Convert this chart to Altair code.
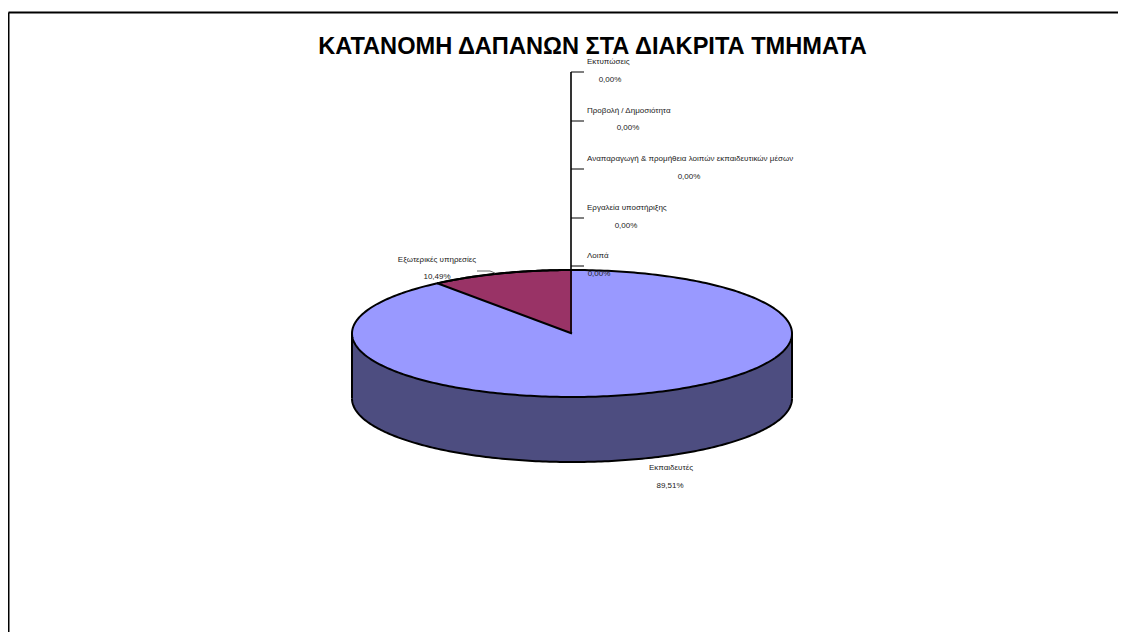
import numpy as np
import pandas as pd
import altair as alt

TITLE = "ΚΑΤΑΝΟΜΗ ΔΑΠΑΝΩΝ ΣΤΑ ΔΙΑΚΡΙΤΑ ΤΜΗΜΑΤΑ"
categories = ["Εκπαιδευτές", "Εξωτερικές υπηρεσίες", "Λοιπά", "Εργαλεία υποστήριξης",
              "Αναπαραγωγή & προμήθεια λοιπών εκπαιδευτικών μέσων",
              "Προβολή / Δημοσιότητα", "Εκτυπώσεις"]
shares = [89.51, 10.49, 0.0, 0.0, 0.0, 0.0, 0.0]
pct_labels = ["89,51%", "10,49%", "0,00%", "0,00%", "0,00%", "0,00%", "0,00%"]
# label anchors, in page pixels
name_x = [671, 437, 587, 587, 587, 587, 587]
name_y = [468, 260, 256, 208, 159, 111, 62]
pct_x = [670, 437, 599, 626, 689, 628, 610]
pct_y = [486, 277, 274, 226, 177, 128, 80]
leader_y = [266, 218, 169, 121, 72]

W, H = 1126, 640
M = 8
DEPTH = 65
CX, CY, RX, RY = 572, 333.5, 220, 63.5

sx = alt.Scale(domain=[M, W - M], range=[0, W - 2 * M], nice=False, zero=False)
sy = alt.Scale(domain=[M, H - M], range=[0, H - 2 * M], nice=False, zero=False)
ax = dict(scale=sx, axis=None)
ay = dict(scale=sy, axis=None)

def edge(t):
    return CX + RX * np.sin(t), CY - RY * np.cos(t)

theta_small = shares[1] / 100 * 2 * np.pi
t_small = np.linspace(-theta_small, 0, 60)
xs, ys = edge(t_small)
ex, ey = xs[0], ys[0]
small = pd.DataFrame({"x": xs, "y": ys, "y2": ey + (xs - ex) / (CX - ex) * (CY - ey)})

u = np.linspace(-np.pi / 2, np.pi / 2, 200)
xe = CX + RX * np.sin(u)
top_half = CY - RY * np.cos(u)
low_half = CY + RY * np.cos(u)
disc = pd.DataFrame({"x": xe, "top": top_half, "low": low_half, "low2": low_half + DEPTH})

ring_t = np.linspace(-theta_small, 2 * np.pi - theta_small, 360)
rx_, ry_ = edge(ring_t)
outer = pd.DataFrame({"x": rx_, "y": ry_, "o": np.arange(360)})
front = pd.DataFrame({"x": xe, "y": low_half + DEPTH, "o": np.arange(200)})
small_line = pd.DataFrame({"x": [ex, CX], "y": [ey, CY], "o": [0, 1]})
top_arc = pd.DataFrame({"x": xs, "y": ys, "o": np.arange(60)})

def line(df, width=2.0, color="black"):
    return alt.Chart(df).mark_line(color=color, strokeWidth=width).encode(
        x=alt.X("x:Q", **ax), y=alt.Y("y:Q", **ay), order="o:Q")

def seg(df, width=1.0, color="black"):
    return alt.Chart(df).mark_rule(color=color, strokeWidth=width).encode(
        x=alt.X("x:Q", **ax), y=alt.Y("y:Q", **ay), x2="x2:Q", y2="y2:Q")

side = alt.Chart(disc).mark_area(color="#4d4d80").encode(
    x=alt.X("x:Q", **ax), y=alt.Y("low:Q", **ay), y2="low2:Q")
face = alt.Chart(disc).mark_area(color="#9999ff").encode(
    x=alt.X("x:Q", **ax), y=alt.Y("top:Q", **ay), y2="low:Q")
wedge = alt.Chart(small).mark_area(color="#993366").encode(
    x=alt.X("x:Q", **ax), y=alt.Y("y:Q", **ay), y2="y2:Q")

edges = pd.DataFrame({"x": [CX - RX, CX + RX], "x2": [CX - RX, CX + RX],
                      "y": [CY, CY], "y2": [CY + DEPTH, CY + DEPTH]})
frame = pd.DataFrame({"x": [8.5, 8.5], "x2": [W - M, 8.5],
                      "y": [12.5, 12.5], "y2": [12.5, H - M]})
trunk = pd.DataFrame({"x": [571], "x2": [571], "y": [leader_y[-1]], "y2": [CY]})
leaders = pd.DataFrame({"x": [571] * 5, "x2": [584] * 5, "y": leader_y, "y2": leader_y})
ext = pd.DataFrame({"x": [477, 490], "x2": [490, 495], "y": [271, 271], "y2": [271, 273]})

names = pd.DataFrame({"x": name_x, "y": name_y, "t": categories})
pcts = pd.DataFrame({"x": pct_x, "y": pct_y, "t": pct_labels})
FONT = "Liberation Sans, Arial"

def label(df, align="left"):
    return alt.Chart(df).mark_text(font=FONT, fontSize=8, color="#222222",
                                   align=align, baseline="middle").encode(
        x=alt.X("x:Q", **ax), y=alt.Y("y:Q", **ay), text="t:N")

title = alt.Chart(pd.DataFrame({"x": [592.5], "y": [47], "t": [TITLE]})).mark_text(
    font=FONT, fontSize=23.6, fontWeight="bold", color="black", align="center",
    baseline="middle").encode(x=alt.X("x:Q", **ax), y=alt.Y("y:Q", **ay), text="t:N")

chart = alt.layer(
    seg(frame, 2), side, face, wedge,
    line(outer), line(front), line(small_line), line(top_arc),
    seg(edges, 2), seg(trunk, 1.6), seg(leaders, 1), seg(ext, 1, "#666666"),
    title, label(names.iloc[:2], "center"),
    label(names.iloc[2:]), label(pcts, "center"),
).properties(width=W - 2 * M, height=H - 2 * M, padding=0, background="white",
             autosize=alt.AutoSizeParams(type="none")
).configure_view(stroke=None)

chart.save("out.html", embed_options={"renderer": "svg", "actions": False})
